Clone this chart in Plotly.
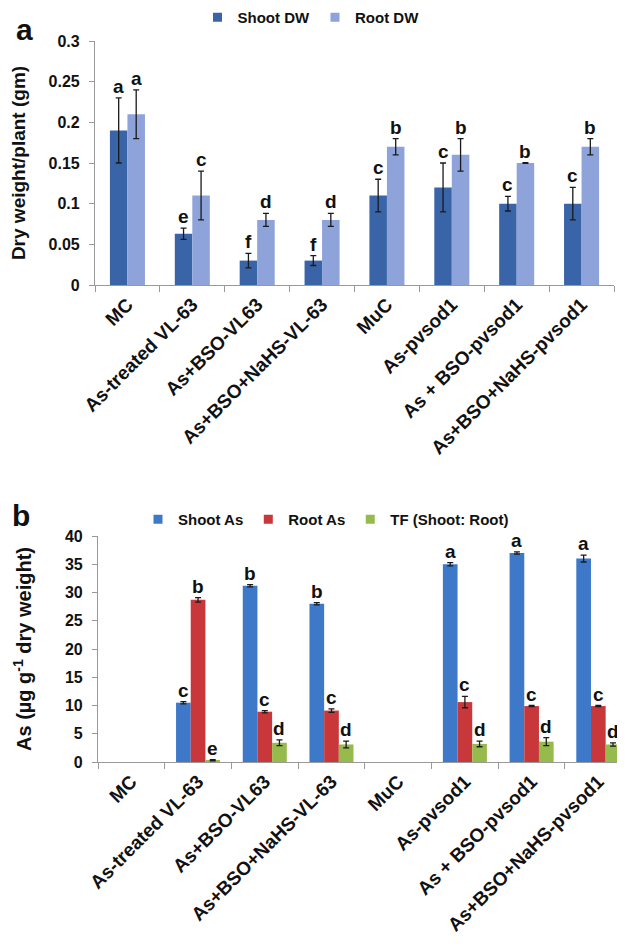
import plotly.graph_objects as go

categories = ["MC", "As-treated VL-63", "As+BSO-VL63", "As+BSO+NaHS-VL-63",
              "MuC", "As-pvsod1", "As + BSO-pvsod1", "As+BSO+NaHS-pvsod1"]

# Panel a
shoot_dw = [0.19, 0.063, 0.03, 0.03, 0.11, 0.12, 0.10, 0.10]
shoot_dw_err = [0.04, 0.007, 0.009, 0.006, 0.02, 0.03, 0.009, 0.02]
shoot_dw_let = ["a", "e", "f", "f", "c", "c", "c", "c"]
root_dw = [0.21, 0.11, 0.08, 0.08, 0.17, 0.16, 0.15, 0.17]
root_dw_err = [0.03, 0.03, 0.008, 0.008, 0.01, 0.02, 0.0005, 0.01]
root_dw_let = ["a", "c", "d", "d", "b", "b", "b", "b"]

# Panel b (MC and MuC: no value drawn)
shoot_as = [None, 10.5, 31.2, 28.0, None, 35.0, 37.0, 36.0]
shoot_as_err = [None, 0.2, 0.2, 0.2, None, 0.3, 0.2, 0.6]
shoot_as_let = ["", "c", "b", "b", "", "a", "a", "a"]
root_as = [None, 28.7, 8.9, 9.1, None, 10.6, 9.9, 9.9]
root_as_err = [None, 0.4, 0.2, 0.3, None, 1.0, 0.1, 0.1]
root_as_let = ["", "b", "c", "c", "", "c", "c", "c"]
tf = [None, 0.3, 3.4, 3.1, None, 3.2, 3.6, 3.1]
tf_err = [None, 0.1, 0.5, 0.6, None, 0.5, 0.7, 0.3]
tf_let = ["", "e", "d", "d", "", "d", "d", "d"]

FONT = "Liberation Sans, Arial, sans-serif"
OFF = 8                      # page body margin
W, H = 625 - OFF, 948 - OFF  # figure size so it fills the window


def PX(px):
    return (px - OFF) / W


def PY(py):
    return 1 - (py - OFF) / H


fig = go.Figure()


def add_bars(vals, errs, name, color, width, offset, xa, ya, legend):
    fig.add_trace(go.Bar(
        x=categories, y=vals, name=name, marker_color=color, marker_line_width=0,
        width=width, offset=offset, xaxis=xa, yaxis=ya, showlegend=False,
        error_y=dict(type="data", array=errs, color="#1a1a1a", thickness=1.3, width=3,
                     visible=True),
    ))
    # legend entry with a small square symbol
    fig.add_trace(go.Scatter(
        x=[None], y=[None], mode="markers", name="<b>%s</b>" % name, legend=legend,
        marker=dict(symbol="square", size=9, color=color), xaxis=xa, yaxis=ya,
    ))


def add_letters(vals, errs, lets, center_off, xa, ya):
    for i, (v, e, l) in enumerate(zip(vals, errs, lets)):
        if not l:
            continue
        fig.add_annotation(x=i + center_off, y=v + e, text="<b>%s</b>" % l,
                           xref=xa, yref=ya, showarrow=False, yanchor="bottom",
                           yshift=-1, font=dict(size=19, color="#111", family=FONT))


wa = 0.27
add_bars(shoot_dw, shoot_dw_err, "Shoot DW", "#3A64A8", wa, -wa, "x", "y", "legend")
add_bars(root_dw, root_dw_err, "Root DW", "#8FA3DB", wa, 0, "x", "y", "legend")
add_letters(shoot_dw, shoot_dw_err, shoot_dw_let, -wa / 2, "x", "y")
add_letters(root_dw, root_dw_err, root_dw_let, wa / 2, "x", "y")

wb = 0.22
add_bars(shoot_as, shoot_as_err, "Shoot As", "#3D78C9", wb, -1.5 * wb, "x2", "y2", "legend2")
add_bars(root_as, root_as_err, "Root As", "#C8373A", wb, -0.5 * wb, "x2", "y2", "legend2")
add_bars(tf, tf_err, "TF (Shoot: Root)", "#97BA4D", wb, 0.5 * wb, "x2", "y2", "legend2")
add_letters(shoot_as, shoot_as_err, shoot_as_let, -wb, "x2", "y2")
add_letters(root_as, root_as_err, root_as_let, 0, "x2", "y2")
add_letters(tf, tf_err, tf_let, wb, "x2", "y2")

tickfont = dict(size=16, color="#111", family=FONT)
xcommon = dict(type="category", tickson="boundaries", ticks="outside", ticklen=6,
               tickcolor="#999", showline=True, linecolor="#999", linewidth=1.2,
               tickangle=-45, tickfont=dict(size=19, color="#111", family=FONT),
               showgrid=False, zeroline=False, fixedrange=True, automargin=False)
ycommon = dict(showline=True, linecolor="#999", linewidth=1.2, ticks="outside",
               ticklen=5, tickcolor="#999", tickfont=tickfont, showgrid=False,
               zeroline=False, ticklabelstandoff=6, automargin=False)

legfont = dict(size=15, family=FONT, color="#111")

fig.update_layout(
    width=W, height=H, margin=dict(l=0, r=0, t=0, b=0, autoexpand=False),
    paper_bgcolor="white", plot_bgcolor="white", barmode="group",
    font=dict(family=FONT, color="#111"),
    xaxis=dict(xcommon, domain=[PX(95), PX(614)], anchor="y", range=[-0.5, 7.5],
               ticktext=["<b>%s</b>" % c for c in categories], tickvals=categories),
    yaxis=dict(ycommon, domain=[PY(285), PY(41)], anchor="x", range=[0, 0.3],
               tickvals=[0, 0.05, 0.1, 0.15, 0.2, 0.25, 0.3],
               ticktext=["<b>%s</b>" % t for t in ["0", "0.05", "0.1", "0.15", "0.2", "0.25", "0.3"]],
               title=dict(text="<b>Dry weight/plant (gm)</b>", font=dict(size=19, family=FONT),
                          standoff=21)),
    xaxis2=dict(xcommon, domain=[PX(98), 1.0], anchor="y2", range=[-0.5, 7.4],
                ticktext=["<b>%s</b>" % c for c in categories], tickvals=categories),
    yaxis2=dict(ycommon, domain=[PY(762), PY(536)], anchor="x2", range=[0, 40],
                tickvals=[0, 5, 10, 15, 20, 25, 30, 35, 40],
                ticktext=["<b>%d</b>" % t for t in [0, 5, 10, 15, 20, 25, 30, 35, 40]],
                title=dict(text="<b>As (µg g<sup>-1</sup> dry weight)</b>",
                           font=dict(size=20, family=FONT), standoff=27)),
    legend=dict(orientation="h", x=PX(311), xanchor="center", y=1 + 7 / H, yanchor="top",
                font=legfont, itemwidth=30,
                bgcolor="rgba(0,0,0,0)", traceorder="normal"),
    legend2=dict(orientation="h", x=PX(326), xanchor="center", y=PY(503), yanchor="top",
                 font=legfont, itemwidth=30,
                 bgcolor="rgba(0,0,0,0)", traceorder="normal"),
    showlegend=True,
)

fig.add_annotation(text="<b>a</b>", x=6 / W, y=1 - 3 / H, xref="paper", yref="paper",
                   showarrow=False, xanchor="left", yanchor="top",
                   font=dict(size=30, family=FONT, color="#111"))
fig.add_annotation(text="<b>b</b>", x=2 / W, y=1 - 489 / H, xref="paper", yref="paper",
                   showarrow=False, xanchor="left", yanchor="top",
                   font=dict(size=30, family=FONT, color="#111"))

fig.write_html("out.html")
